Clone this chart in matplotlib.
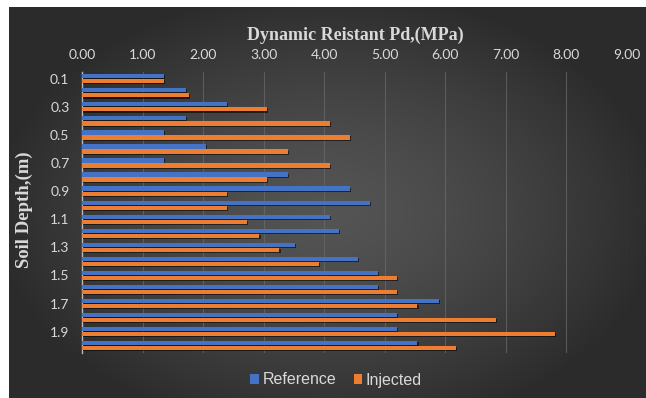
import numpy as np
import matplotlib
matplotlib.use("Agg")
import matplotlib.pyplot as plt
import matplotlib.patheffects as pe

# Soil depth (m) and dynamic resistance Pd (MPa)
depths = ["0.1", "0.2", "0.3", "0.4", "0.5", "0.6", "0.7", "0.8", "0.9", "1.0",
          "1.1", "1.2", "1.3", "1.4", "1.5", "1.6", "1.7", "1.8", "1.9", "2.0"]
reference = [1.36, 1.71, 2.39, 1.71, 1.36, 2.04, 1.36, 3.40, 4.42, 4.76,
             4.09, 4.24, 3.52, 4.56, 4.88, 4.88, 5.89, 5.20, 5.20, 5.54]
injected = [1.36, 1.77, 3.06, 4.09, 4.42, 3.40, 4.09, 3.06, 2.39, 2.39,
            2.73, 2.93, 3.26, 3.91, 5.20, 5.20, 5.54, 6.84, 7.81, 6.18]
x_ticks = [0, 1, 2, 3, 4, 5, 6, 7, 8, 9]

BLUE = "#4472C4"
ORANGE = "#ED7D31"
TXT = "#d9d9d9"

fig = plt.figure(figsize=(6.46, 3.98), dpi=100)
fig.patch.set_facecolor("white")

# dark radial-gradient chart background
bg = fig.add_axes([9 / 646, 0, 637 / 646, 391 / 398])
bg.set_axis_off()
gx, gy = np.meshgrid(np.linspace(-1, 1, 400), np.linspace(-1, 1, 250))
r = np.sqrt((gx / 1.05) ** 2 + ((gy + 0.05) / 1.15) ** 2)
r = np.clip(r, 0, 1)
shade = 0.33 - 0.16 * r ** 1.4
bg.imshow(np.dstack([shade] * 3), extent=[0, 1, 0, 1], aspect="auto", origin="lower")
bg.set_xlim(0, 1)
bg.set_ylim(0, 1)

ax = fig.add_axes([82 / 646, 1 - 352.7 / 398, (627 - 82) / 646, (352.7 - 71.7) / 398])
ax.set_facecolor("none")

y = np.arange(len(depths))
h = 0.3
off = 0.18
shadow = [pe.SimplePatchShadow(offset=(0.8, -0.8), shadow_rgbFace="black", alpha=0.55), pe.Normal()]
b1 = ax.barh(y - off, reference, height=h, color=BLUE, label="Reference", zorder=3)
b2 = ax.barh(y + off, injected, height=h, color=ORANGE, label="Injected", zorder=3)
for b in list(b1) + list(b2):
    b.set_path_effects(shadow)

ax.set_ylim(len(depths) - 0.5, -0.5)
ax.set_xlim(0, 9)
ax.set_xticks(x_ticks)
ax.set_xticklabels([f"{v:.2f}" for v in x_ticks], color=TXT, fontsize=10, family="Lato")
ax.xaxis.tick_top()
ax.set_yticks(y[::2])
ax.set_yticklabels(depths[::2], color=TXT, fontsize=10, family="Lato")
ax.tick_params(length=0, pad=9)
ax.tick_params(axis="x", pad=8)
ax.grid(axis="x", color="#6a6a6a", linewidth=0.8, alpha=0.7, zorder=0)
for s in ["top", "right", "bottom"]:
    ax.spines[s].set_visible(False)
ax.spines["left"].set_color("#b8b8b8")
ax.spines["left"].set_linewidth(1.0)

fig.text(355 / 646, 1 - 35 / 398, "Dynamic Reistant Pd,(MPa)", ha="center", va="center",
         fontsize=13, fontweight="bold", family="Liberation Serif", color=TXT)
fig.text(24 / 646, 1 - 210 / 398, "Soil Depth,(m)", ha="center", va="center", rotation=90,
         fontsize=13.5, fontweight="bold", family="Liberation Serif", color=TXT)

leg = fig.legend(handles=[b1, b2], labels=["Reference", "Injected"], loc="center",
                 bbox_to_anchor=(336 / 646, 1 - 380 / 398), ncol=2, frameon=False,
                 handlelength=0.55, handleheight=0.55, handletextpad=0.2,
                 columnspacing=1.1, prop={"family": "Liberation Sans", "size": 11.5})
for t in leg.get_texts():
    t.set_color(TXT)
for hnd in leg.legend_handles:
    hnd.set_path_effects([])

fig.savefig("out.png", dpi=100)
